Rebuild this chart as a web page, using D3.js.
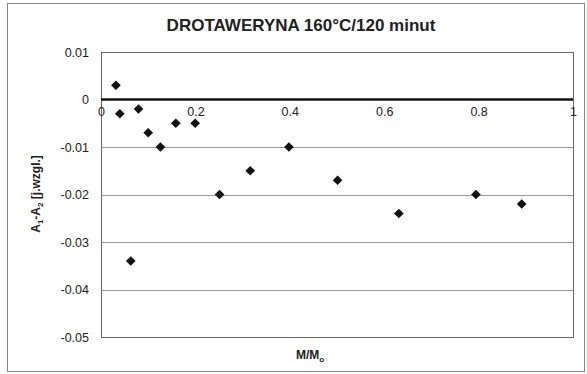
<!DOCTYPE html>
<html><head><meta charset="utf-8">
<script src="https://cdn.jsdelivr.net/npm/d3@7"></script>
<style>body{margin:0;background:#fff}svg{display:block}</style>
</head><body>
<svg id="c" width="587" height="374"></svg>
<script>
const xValues = [0.0316, 0.0398, 0.0631, 0.0794, 0.1, 0.1259, 0.1585, 0.1995, 0.2512, 0.3162, 0.3981, 0.5012, 0.631, 0.7943, 0.8913];
const yValues = [0.003, -0.003, -0.034, -0.002, -0.007, -0.010, -0.005, -0.005, -0.020, -0.015, -0.010, -0.017, -0.024, -0.020, -0.022];
const xTicks = [0, 0.2, 0.4, 0.6, 0.8, 1];
const yTicks = [0.01, 0, -0.01, -0.02, -0.03, -0.04, -0.05];
const title = "DROTAWERYNA 160°C/120 minut";

const svg = d3.select("#c");
const L = 101, R = 573, T = 52, B = 337;
const x = d3.scaleLinear().domain([0, 1]).range([L, R]);
const y = d3.scaleLinear().domain([0.01, -0.05]).range([T, B]);
const font = "'Liberation Sans', Arial, sans-serif";

svg.append("rect").attr("x", 7.5).attr("y", 3.5).attr("width", 577).attr("height", 368)
  .attr("fill", "#fff").attr("stroke", "#888").attr("stroke-width", 1);

// gridlines
svg.append("g").selectAll("line").data(yTicks.filter(d => d !== 0 && d !== 0.01 && d !== -0.05)).join("line")
  .attr("x1", L).attr("x2", R).attr("y1", d => Math.round(y(d)) + 0.5).attr("y2", d => Math.round(y(d)) + 0.5)
  .attr("stroke", "#999").attr("stroke-width", 1.2);

// plot border
svg.append("rect").attr("x", L + 0.5).attr("y", T + 0.5).attr("width", R - L).attr("height", B - T)
  .attr("fill", "none").attr("stroke", "#666").attr("stroke-width", 1);

// zero line
svg.append("line").attr("x1", L).attr("x2", R).attr("y1", y(0)).attr("y2", y(0))
  .attr("stroke", "#111").attr("stroke-width", 2.5);

// y axis labels
const yAxis = d3.axisLeft(y).tickValues(yTicks).tickSize(0).tickPadding(12)
  .tickFormat(d => d === 0 ? "0" : d3.format(".2f")(d).replace("−", "-"));
const gy = svg.append("g").attr("transform", `translate(${L},0)`).call(yAxis);
gy.select(".domain").remove();
gy.selectAll("text").attr("font-family", font).attr("font-size", 12.5).attr("fill", "#222");

// x axis labels along zero line
const xAxis = d3.axisBottom(x).tickValues(xTicks).tickSize(0).tickPadding(8)
  .tickFormat(d => d === 0 ? "0" : d === 1 ? "1" : d3.format(".1f")(d));
const gx = svg.append("g").attr("transform", `translate(0,${y(0)})`).call(xAxis);
gx.select(".domain").remove();
gx.selectAll("text").attr("font-family", font).attr("font-size", 12.5).attr("fill", "#222");

// points
const diamond = d3.symbol().type(d3.symbolDiamond2).size(60);
svg.append("g").selectAll("path").data(xValues.map((v, i) => [v, yValues[i]])).join("path")
  .attr("d", diamond).attr("transform", d => `translate(${x(d[0])},${y(d[1])})`)
  .attr("fill", "#111");

// title
svg.append("text").attr("x", 301).attr("y", 31).attr("text-anchor", "middle")
  .attr("font-family", font).attr("font-size", 17).attr("font-weight", "bold").attr("fill", "#222")
  .text(title);

// x axis title
const xt = svg.append("text").attr("x", 310).attr("y", 359).attr("text-anchor", "middle")
  .attr("font-family", font).attr("font-size", 12).attr("font-weight", "bold").attr("fill", "#222");
xt.append("tspan").text("M/M");
xt.append("tspan").attr("font-size", 8).attr("dy", 3).text("o");

// y axis title
const yt = svg.append("text").attr("transform", "translate(40,194) rotate(-90)").attr("text-anchor", "middle")
  .attr("font-family", font).attr("font-size", 12).attr("font-weight", "bold").attr("fill", "#222");
yt.append("tspan").text("A");
yt.append("tspan").attr("font-size", 8).attr("dy", 3).text("1");
yt.append("tspan").attr("dy", -3).text("-A");
yt.append("tspan").attr("font-size", 8).attr("dy", 3).text("2");
yt.append("tspan").attr("dy", -3).text(" [j.wzgl.]");
</script>
</body></html>
